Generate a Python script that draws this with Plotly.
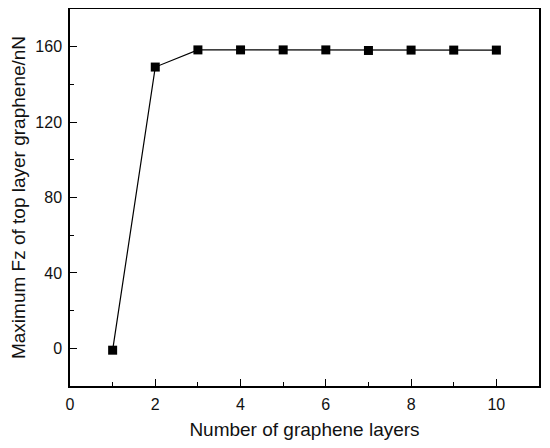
import plotly.graph_objects as go

layers = [1, 2, 3, 4, 5, 6, 7, 8, 9, 10]
max_fz = [-1, 149.2, 158.3, 158.3, 158.3, 158.3, 158.0, 158.2, 158.2, 158.2]

FONT = "Liberation Sans, Arial, sans-serif"

fig = go.Figure()
fig.add_trace(go.Scatter(
    x=layers, y=max_fz, mode="lines+markers",
    line=dict(color="black", width=1.2),
    marker=dict(symbol="square", size=9, color="black"),
    showlegend=False,
))

axis_common = dict(
    showline=True, linecolor="black", linewidth=1.5, mirror=True,
    ticks="inside", ticklen=7, tickwidth=1.2, tickcolor="black",
    showgrid=False, zeroline=False, automargin=False,
    ticklabelstandoff=3,
    tickfont=dict(family=FONT, size=16, color="#111"),
)

fig.update_xaxes(
    range=[0, 11], tickvals=[0, 2, 4, 6, 8, 10],
    minor=dict(ticks="inside", ticklen=4, tickwidth=1.2, tickcolor="black", dtick=1, tick0=0),
    title=dict(text="Number of graphene layers", standoff=11,
               font=dict(family=FONT, size=19, color="#111")),
    **axis_common,
)
fig.update_yaxes(
    range=[-20, 180], tickvals=[0, 40, 80, 120, 160],
    minor=dict(ticks="inside", ticklen=4, tickwidth=1.2, tickcolor="black", dtick=20, tick0=0),
    title=dict(text="Maximum Fz of top layer graphene/nN", standoff=10,
               font=dict(family=FONT, size=19, color="#111")),
    **axis_common,
)

fig.update_layout(
    width=542, height=440,
    margin=dict(l=62, r=11, t=1, b=62),
    plot_bgcolor="white", paper_bgcolor="white",
)

fig.write_html("out.html")
